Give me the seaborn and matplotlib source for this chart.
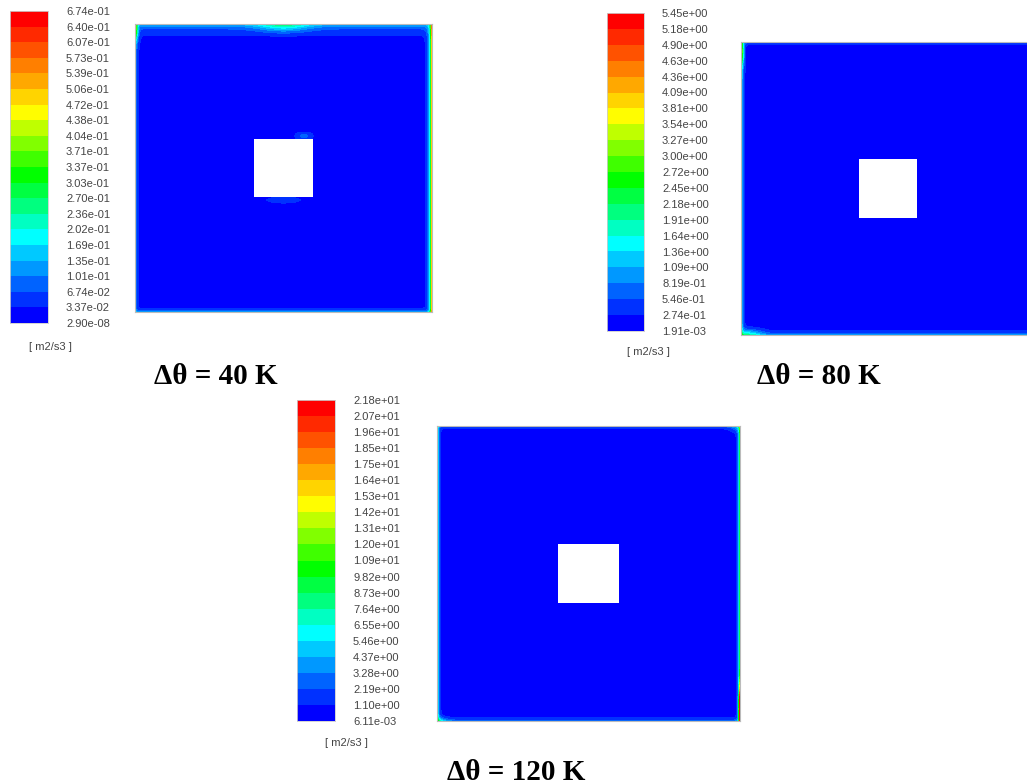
import numpy as np
import matplotlib
matplotlib.use("Agg")
import matplotlib.pyplot as plt
import seaborn as sns
from matplotlib.colors import ListedColormap, LinearSegmentedColormap

# colour-bar labels, top (max) to bottom (min)
labels_40 = ["6.74e-01", "6.40e-01", "6.07e-01", "5.73e-01", "5.39e-01", "5.06e-01",
             "4.72e-01", "4.38e-01", "4.04e-01", "3.71e-01", "3.37e-01", "3.03e-01",
             "2.70e-01", "2.36e-01", "2.02e-01", "1.69e-01", "1.35e-01", "1.01e-01",
             "6.74e-02", "3.37e-02", "2.90e-08"]
labels_80 = ["5.45e+00", "5.18e+00", "4.90e+00", "4.63e+00", "4.36e+00", "4.09e+00",
             "3.81e+00", "3.54e+00", "3.27e+00", "3.00e+00", "2.72e+00", "2.45e+00",
             "2.18e+00", "1.91e+00", "1.64e+00", "1.36e+00", "1.09e+00", "8.19e-01",
             "5.46e-01", "2.74e-01", "1.91e-03"]
labels_120 = ["2.18e+01", "2.07e+01", "1.96e+01", "1.85e+01", "1.75e+01", "1.64e+01",
              "1.53e+01", "1.42e+01", "1.31e+01", "1.20e+01", "1.09e+01", "9.82e+00",
              "8.73e+00", "7.64e+00", "6.55e+00", "5.46e+00", "4.37e+00", "3.28e+00",
              "2.19e+00", "1.10e+00", "6.11e-03"]
titles = ["Δθ = 40 K", "Δθ = 80 K", "Δθ = 120 K"]

# wall boundary layers (fraction of colour range): left, right, top, bottom
wall_peak_40 = [0.18, 0.85, 0.14, 0.10]
wall_width_40 = [0.005, 0.006, 0.025, 0.006]
wall_peak_80 = [0.45, 0.35, 0.08, 0.10]
wall_width_80 = [0.004, 0.004, 0.004, 0.008]
wall_peak_120 = [0.60, 0.50, 0.08, 0.08]
wall_width_120 = [0.004, 0.004, 0.004, 0.006]

# local spots: u, v, peak, radius_u, radius_v
spots_40 = [(0.50, 1.00, 0.20, 0.09, 0.025), (0.00, 0.98, 0.40, 0.010, 0.04),
            (0.57, 0.61, 0.10, 0.030, 0.015), (0.50, 0.39, 0.08, 0.060, 0.012)]
spots_80 = [(0.02, 0.00, 0.20, 0.05, 0.020), (0.00, 0.97, 0.40, 0.01, 0.05)]
spots_120 = [(1.00, 1.00, 0.14, 0.03, 0.020), (0.00, 0.00, 0.16, 0.03, 0.015),
             (1.00, 0.04, 0.80, 0.005, 0.08)]

hole = [0.40, 0.60]  # square obstacle, fraction of cavity

# Fluent-like 20 band rainbow (cyan at band 6, green at 10, yellow at 14)
rainbow = LinearSegmentedColormap.from_list(
    "fluent", [(0, "#0000ff"), (5 / 19, "#00ffff"), (9 / 19, "#00ff00"),
               (13 / 19, "#ffff00"), (1, "#ff0000")])
band_cmap = ListedColormap([rainbow(i / 19) for i in range(20)])

W, H = 1027, 784
fig = plt.figure(figsize=(W / 100, H / 100), dpi=100)


def px_axes(x0, y0, x1, y1):
    return fig.add_axes([x0 / W, 1 - y1 / H, (x1 - x0) / W, (y1 - y0) / H])


def build_field(labels, peaks, widths, spots, n=300):
    levels = np.array([float(s) for s in labels[::-1]])
    vmin, vmax = levels[0], levels[-1]
    u = (np.arange(n) + 0.5) / n
    U, V = np.meshgrid(u, u[::-1])
    s = np.full(U.shape, 0.02)
    s += 0.07 * np.exp(-np.minimum.reduce([U, 1 - U, V, 1 - V]) / 0.01)
    dists = [U, 1 - U, 1 - V, V]
    for d, a, w in zip(dists, peaks, widths):
        s += a * np.exp(-d / w)
    for u0, v0, a, ru, rv in spots:
        s += a * np.exp(-((U - u0) / ru) ** 2 - ((V - v0) / rv) ** 2)
    val = vmin + np.clip(s, 0, 1) * (vmax - vmin)
    band = np.digitize(val, levels[1:-1])
    mask = (U > hole[0]) & (U < hole[1]) & (V > hole[0]) & (V < hole[1])
    return band, mask


def draw_panel(labels, peaks, widths, spots, title, bar_box, field_box, unit_xy, title_xy):
    cax = px_axes(*bar_box)
    sns.heatmap(np.arange(19, -1, -1).reshape(-1, 1), cmap=band_cmap, vmin=-0.5, vmax=19.5,
                cbar=False, xticklabels=False, yticklabels=False, ax=cax)
    cax.set_yticks(np.arange(21))
    cax.set_yticklabels(labels, fontsize=8, color="#444444", family="Liberation Sans")
    cax.tick_params(axis="y", length=0, pad=13, left=False, right=False,
                    labelleft=False, labelright=True)
    for sp in cax.spines.values():
        sp.set_visible(True)
        sp.set_color("#cccccc")
        sp.set_linewidth(0.6)

    ax = px_axes(*field_box)
    band, mask = build_field(labels, peaks, widths, spots)
    sns.heatmap(band, mask=mask, cmap=band_cmap, vmin=-0.5, vmax=19.5, cbar=False,
                xticklabels=False, yticklabels=False, ax=ax, rasterized=True)
    for sp in ax.spines.values():
        sp.set_visible(True)
        sp.set_color("#bbbbbb")
        sp.set_linewidth(0.8)

    fig.text(unit_xy[0] / W, 1 - unit_xy[1] / H, "[ m2/s3 ]", fontsize=8, color="#444444",
             family="Liberation Sans", ha="center", va="center")
    fig.text(title_xy[0] / W, 1 - title_xy[1] / H, title, fontsize=21, fontweight="bold",
             family="Liberation Serif", ha="center", va="center")


draw_panel(labels_40, wall_peak_40, wall_width_40, spots_40, titles[0],
           (10, 11, 48, 323), (135, 24, 432, 312), (50, 347), (216, 376))
draw_panel(labels_80, wall_peak_80, wall_width_80, spots_80, titles[1],
           (607, 13, 644, 331), (741, 42, 1035, 335), (648, 352), (819, 376))
draw_panel(labels_120, wall_peak_120, wall_width_120, spots_120, titles[2],
           (297, 400, 335, 721), (437, 426, 740, 721), (346, 743), (516, 772))

fig.savefig("out.png", dpi=100)
